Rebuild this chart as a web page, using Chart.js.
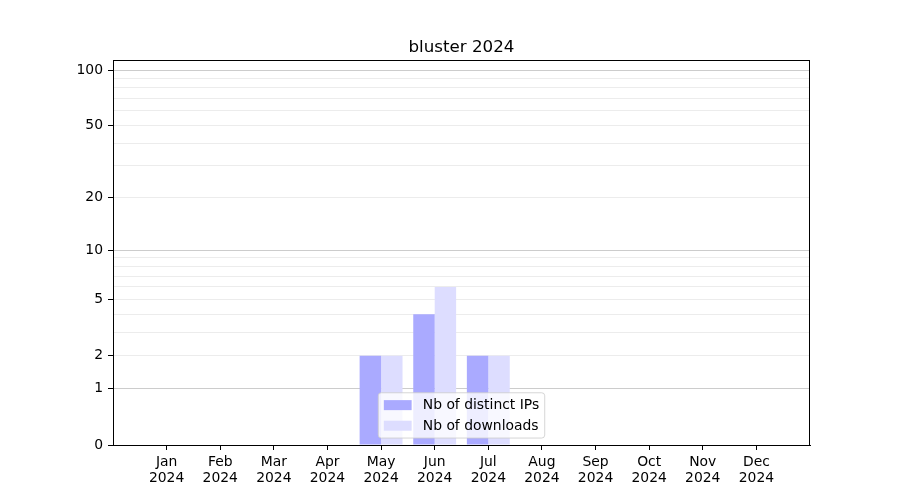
<!DOCTYPE html>
<html>
<head>
<meta charset="utf-8">
<script src="https://cdn.jsdelivr.net/npm/chart.js@4.4.1/dist/chart.umd.min.js"></script>
<style>
  html, body { margin: 0; padding: 0; background: #ffffff; }
  #wrap { width: 900px; height: 500px; }
</style>
</head>
<body>
<div id="wrap"><canvas id="c" width="900" height="500"></canvas></div>
<script>
// ---- data ----
const months = ['Jan','Feb','Mar','Apr','May','Jun','Jul','Aug','Sep','Oct','Nov','Dec'];
const year = '2024';
const chartTitle = 'bluster 2024';
const distinctIPs = [0,0,0,0,2,4,2,0,0,0,0,0];
const downloads   = [0,0,0,0,2,6,2,0,0,0,0,0];
const seriesNames = ['Nb of distinct IPs','Nb of downloads'];
const yTickLabels = [0,1,2,5,10,20,50,100];
const yMajorGrid  = [1,10,100];
const yMinorGrid  = [2,3,4,5,6,7,8,9,20,30,40,50,60,70,80,90];
const yMaxValue   = 113.2;

// y scale: log10(1 + v)
const tf = v => Math.log10(1 + v);
const near = (a, b) => Math.abs(a - b) < 1e-6;

const xLabels = [''].concat(months.map(m => [m, year])).concat(['']);
const pad = arr => [null].concat(arr.map(tf)).concat([null]);

const gridValues = Array.from(new Set(yTickLabels.concat(yMajorGrid, yMinorGrid))).sort((a,b)=>a-b);

const font = 'DejaVu Sans';
Chart.defaults.font.family = font;
Chart.defaults.color = '#000000';

const framePlugin = {
  id: 'frame',
  afterDatasetsDraw(chart) {
    const {ctx, chartArea: a} = chart;
    ctx.save();
    ctx.strokeStyle = '#000000';
    ctx.lineWidth = 1;
    ctx.strokeRect(Math.round(a.left) + 0.5, Math.round(a.top) + 0.5,
                   Math.round(a.right - a.left) - 1, Math.round(a.bottom - a.top) - 0);
    ctx.restore();
  }
};

const legendPlugin = {
  id: 'mplLegend',
  afterDraw(chart) {
    const {ctx, chartArea: a} = chart;
    const fs = 13.9;
    ctx.save();
    ctx.font = fs + 'px "' + font + '"';
    const borderpad = 0.4 * fs, handleLen = 2.0 * fs, handlePad = 0.8 * fs,
          labelSpacing = 0.5 * fs, axesPad = 0.5 * fs, rowH = 13.6, handleH = 10;
    const ds = chart.data.datasets;
    let tw = 0;
    ds.forEach(d => { tw = Math.max(tw, ctx.measureText(d.label).width); });
    const w = borderpad * 2 + handleLen + handlePad + tw;
    const h = borderpad * 2 + ds.length * rowH + (ds.length - 1) * labelSpacing;
    const cx = (a.left + a.right) / 2;
    const x0 = cx - w / 2;
    const y0 = a.bottom - axesPad - h;
    const r = 3;
    ctx.beginPath();
    ctx.moveTo(x0 + r, y0);
    ctx.lineTo(x0 + w - r, y0);
    ctx.quadraticCurveTo(x0 + w, y0, x0 + w, y0 + r);
    ctx.lineTo(x0 + w, y0 + h - r);
    ctx.quadraticCurveTo(x0 + w, y0 + h, x0 + w - r, y0 + h);
    ctx.lineTo(x0 + r, y0 + h);
    ctx.quadraticCurveTo(x0, y0 + h, x0, y0 + h - r);
    ctx.lineTo(x0, y0 + r);
    ctx.quadraticCurveTo(x0, y0, x0 + r, y0);
    ctx.closePath();
    ctx.fillStyle = 'rgba(255,255,255,0.8)';
    ctx.fill();
    ctx.strokeStyle = 'rgba(204,204,204,0.8)';
    ctx.lineWidth = 1;
    ctx.stroke();
    ds.forEach((d, i) => {
      const cy = y0 + borderpad + i * (rowH + labelSpacing) + rowH / 2;
      ctx.fillStyle = d.backgroundColor;
      ctx.fillRect(x0 + borderpad, cy - handleH / 2, handleLen, handleH);
      ctx.fillStyle = '#000000';
      ctx.textBaseline = 'middle';
      ctx.textAlign = 'left';
      ctx.fillText(d.label, x0 + borderpad + handleLen + handlePad, cy + 0.5);
    });
    ctx.restore();
  }
};

new Chart(document.getElementById('c'), {
  type: 'bar',
  data: {
    labels: xLabels,
    datasets: [
      { label: seriesNames[0], data: pad(distinctIPs), backgroundColor: '#aaaaff', borderWidth: 0,
        categoryPercentage: 0.8, barPercentage: 1.0 },
      { label: seriesNames[1], data: pad(downloads), backgroundColor: '#ddddff', borderWidth: 0,
        categoryPercentage: 0.8, barPercentage: 1.0 }
    ]
  },
  options: {
    responsive: false,
    animation: false,
    layout: { padding: { left: 0, right: 90, top: 0, bottom: 0 } },
    plugins: {
      legend: { display: false },
      tooltip: { enabled: false },
      title: {
        display: true, text: chartTitle, fullSize: false, color: '#000000',
        font: { family: font, size: 16.7, weight: 'normal', lineHeight: 1.2 },
        padding: { top: 38, bottom: 2 }
      }
    },
    scales: {
      x: {
        offset: false,
        grid: {
          display: true, offset: false, drawOnChartArea: false, drawTicks: true, tickLength: 5,
          tickColor: ctx => (ctx.index === 0 || ctx.index === xLabels.length - 1) ? 'rgba(0,0,0,0)' : '#000000',
          tickWidth: 1
        },
        border: { display: true, color: '#000000', width: 1 },
        ticks: {
          autoSkip: false, maxRotation: 0, minRotation: 0, padding: 5,
          color: '#000000',
          font: { family: font, size: 13.9, lineHeight: 1.1 }
        },
        afterFit(scale) { scale.height = 55; }
      },
      y: {
        type: 'linear',
        min: 0,
        max: tf(yMaxValue),
        afterBuildTicks(scale) {
          scale.ticks = gridValues.map(v => ({ value: tf(v) }));
        },
        grid: {
          display: true, drawOnChartArea: true, drawTicks: true, tickLength: 5, lineWidth: 1,
          color: ctx => {
            const v = ctx.tick ? ctx.tick.value : null;
            if (v === null || near(v, 0)) return 'rgba(0,0,0,0)';
            if (yMajorGrid.some(m => near(tf(m), v))) return '#cccccc';
            return '#ececec';
          },
          tickColor: ctx => {
            const v = ctx.tick ? ctx.tick.value : null;
            if (v !== null && yTickLabels.some(m => near(tf(m), v))) return '#000000';
            return 'rgba(0,0,0,0)';
          }
        },
        border: { display: true, color: '#000000', width: 1 },
        ticks: {
          autoSkip: false, padding: 5, color: '#000000',
          font: { family: font, size: 13.9 },
          callback: function(value) {
            const hit = yTickLabels.find(m => near(tf(m), value));
            return hit === undefined ? '' : String(hit);
          }
        },
        afterFit(scale) { scale.width = 113; }
      }
    }
  },
  plugins: [framePlugin, legendPlugin]
});
</script>
</body>
</html>
